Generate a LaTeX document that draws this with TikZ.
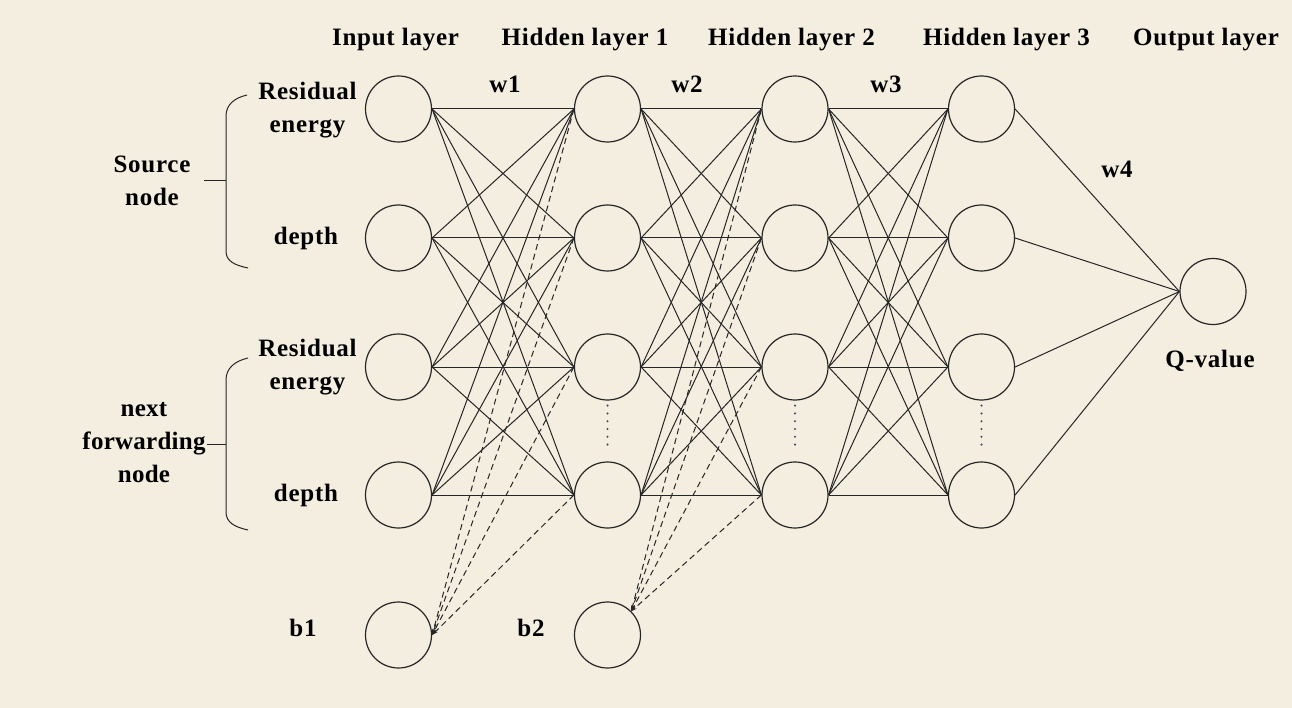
\documentclass[tikz,border=0pt]{standalone}
\usepackage{fontspec}
\setmainfont{Liberation Serif}[LetterSpace=3]
\usetikzlibrary{arrows.meta}
\definecolor{bg}{HTML}{F3EEDF}
\definecolor{ink}{HTML}{262626}
\definecolor{dotc}{HTML}{34507A}
\begin{document}
\begin{tikzpicture}[x=1pt,y=-1pt,
  neuron/.style={circle,draw=ink,line width=1.2pt,minimum size=66pt,inner sep=0pt},
  lbl/.style={font=\fontsize{25}{33}\selectfont\bfseries,text=black,align=center,inner sep=0pt},
  wire/.style={draw=ink,line width=1pt},
  biaswire/.style={draw=ink,line width=1pt,dash pattern=on 6pt off 4pt,-{Stealth[length=6pt,width=3.5pt]}},
  dotline/.style={draw=dotc,line width=2.3pt,line cap=round,dash pattern=on 0pt off 7.8pt},
  bracket/.style={draw=ink,line width=1pt}]
\fill[bg] (0,0) rectangle (1292,708);
\useasboundingbox (0,0) rectangle (1292,708);

% neurons
\foreach \i/\y in {1/109,2/238,3/367,4/495}{
  \node[neuron] (I\i) at (398.5,\y) {};
  \node[neuron] (A\i) at (607.5,\y) {};
  \node[neuron] (B\i) at (795,\y) {};
  \node[neuron] (C\i) at (981.5,\y) {};
}
\node[neuron] (O) at (1213,291.5) {};
\node[neuron] (b1) at (398.5,635) {};
\node[neuron] (b2) at (607.5,635) {};

% full connections
\foreach \i in {1,...,4}{
  \foreach \j in {1,...,4}{
    \draw[wire] (I\i.east) -- (A\j.west);
    \draw[wire] (A\i.east) -- (B\j.west);
    \draw[wire] (B\i.east) -- (C\j.west);
  }
  \draw[wire] (C\i.east) -- (O.west);
  \draw[biaswire] (A\i.west) -- (b1.east);
  \draw[biaswire] (B\i.west) -- (b2.45);
}

% dotted ellipsis lines
\foreach \n in {A,B,C}{
  \draw[dotline] ([yshift=-5pt]\n3.south) -- ([yshift=10pt]\n4.north);
}

% layer titles
\node[lbl] (tIn) at (395.5,40) {Input layer};
\node[lbl] (tH1) at (585,40) {Hidden layer 1};
\node[lbl] (tH2) at (791.5,40) {Hidden layer 2};
\node[lbl] (tH3) at (1006.5,40) {Hidden layer 3};
\node[lbl] (tOut) at (1206,40) {Output layer};

% weights
\node[lbl] (w1) at (505,84) {w1};
\node[lbl] (w2) at (687,84) {w2};
\node[lbl] (w3) at (886,84) {w3};
\node[lbl] (w4) at (1117,169) {w4};

% input labels
\node[lbl] (lRe1) at (307.5,110) {Residual\\energy};
\node[lbl] (lD1) at (306,238) {depth};
\node[lbl] (lRe2) at (307.5,367) {Residual\\energy};
\node[lbl] (lD2) at (306,495) {depth};
\node[lbl] (lb1) at (303,628) {b1};
\node[lbl] (lb2) at (531,628) {b2};
\node[lbl] (lQ) at (1210,361) {Q-value};

% group labels
\node[lbl] (gSrc) at (152,181) {Source\\node};
\node[lbl,font=\fontsize{25}{33}\selectfont\bfseries\addfontfeatures{LetterSpace=1}] (gNext) at (144,443) {next\\forwarding\\node};

% brackets
\draw[bracket] (247,95) .. controls (234,98) and (226,105) .. (226,116) -- (226,251) .. controls (226,261) and (234,265) .. (248,268);
\draw[bracket] (204,181) -- (226,181);
\draw[bracket] (248,358) .. controls (235,361) and (226,368) .. (226,380) -- (226,512) .. controls (226,522) and (234,527) .. (248,530);
\draw[bracket] (gNext.east |- 0,444) ++(1,0) -- (226,444);
\end{tikzpicture}
\end{document}
